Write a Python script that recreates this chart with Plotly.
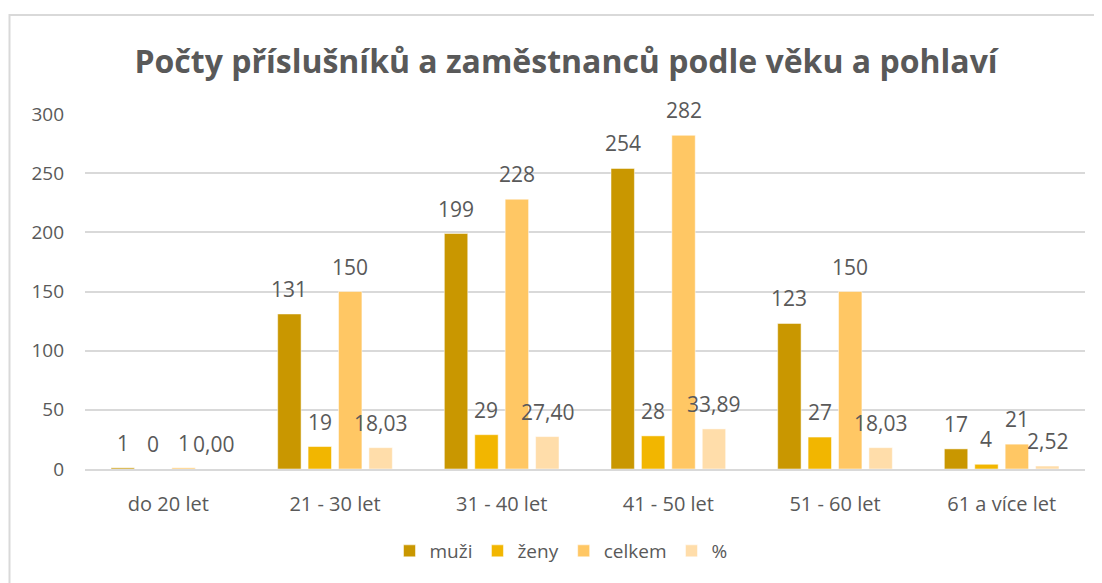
import plotly.graph_objects as go

categories = ["do 20 let", "21 - 30 let", "31 - 40 let", "41 - 50 let", "51 - 60 let", "61 a více let"]
muzi = [1, 131, 199, 254, 123, 17]
zeny = [0, 19, 29, 28, 27, 4]
celkem = [1, 150, 228, 282, 150, 21]
procenta = [0.00, 18.03, 27.40, 33.89, 18.03, 2.52]
y_ticks = [0, 50, 100, 150, 200, 250, 300]

series = [
    ("muži", muzi, "#C99700", [str(v) for v in muzi]),
    ("ženy", zeny, "#F2B600", [str(v) for v in zeny]),
    ("celkem", celkem, "#FFC764", [str(v) for v in celkem]),
    ("%", procenta, "#FFDDAA", [f"{v:.2f}".replace(".", ",") for v in procenta]),
]

FONT = "Open Sans"
GRAY = "#595959"

# the page adds an 8px body margin; figure geometry is set relative to it
OFF = 8
W, H = 1102 - OFF, 583 - OFF
ML, MT = 85 - OFF, 114 - OFF
PW, PH = 1000, 355
MR = W - ML - PW
MB = H - MT - PH
BARGAP = 0.27
BARGROUPGAP = 0.23
slot = PW / len(categories) * (1 - BARGAP) / len(series)

fig = go.Figure()
annotations = []
for i, (name, vals, color, txt) in enumerate(series):
    fig.add_trace(go.Bar(
        name=name, x=categories, y=vals, marker_color=color,
        marker_line=dict(color="rgba(255,255,255,0.5)", width=1),
    ))
    offset = (i - (len(series) - 1) / 2) * slot
    for c, v, t in zip(categories, vals, txt):
        annotations.append(dict(
            x=c, y=v, xref="x", yref="y", text=t, showarrow=False,
            xanchor="center", yanchor="bottom", xshift=offset, yshift=9,
            font=dict(family=FONT, size=21, color=GRAY),
        ))

fig.update_layout(
    width=W, height=H,
    paper_bgcolor="white", plot_bgcolor="white",
    margin=dict(l=ML, r=MR, t=MT, b=MB, autoexpand=False),
    barmode="group", bargap=BARGAP, bargroupgap=BARGROUPGAP,
    title=dict(text="<b>Počty příslušníků a zaměstnanců podle věku a pohlaví</b>",
               x=(566 - OFF) / W, xref="container", xanchor="center",
               y=1 - (62 - OFF) / H, yanchor="middle",
               font=dict(family=FONT, size=32, color=GRAY)),
    font=dict(family=FONT, color=GRAY),
    legend=dict(orientation="h", x=0.476, xanchor="center",
                y=-(551 - (MT + OFF + PH)) / PH, yanchor="middle",
                font=dict(family=FONT, size=19, color=GRAY), itemwidth=30,
                traceorder="normal"),
    xaxis=dict(showgrid=False, showline=True, linecolor="#D9D9D9", linewidth=1.5,
               tickfont=dict(family=FONT, size=20, color=GRAY), ticks="",
               ticklabelstandoff=16, automargin=False),
    yaxis=dict(range=[0, 300], tickvals=y_ticks, showgrid=True, gridcolor="#D9D9D9",
               gridwidth=1.5, zeroline=False, showline=False,
               tickfont=dict(family=FONT, size=19, color=GRAY), ticklabelstandoff=20,
               ticks="", automargin=False),
    annotations=annotations,
    shapes=[
        dict(type="rect", xref="paper", yref="paper",
             x0=(9.5 - OFF - ML) / PW, x1=(W + 20 - ML) / PW,
             y0=-(H + 20 - (MT + PH)) / PH, y1=1 + (MT - (15 - OFF)) / PH,
             line=dict(color="#D9D9D9", width=2), layer="below"),
    ],
)

fig.write_html("out.html")
